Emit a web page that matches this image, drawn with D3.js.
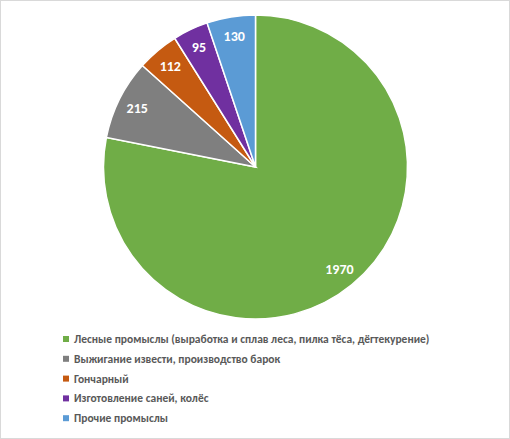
<!DOCTYPE html>
<html>
<head>
<meta charset="utf-8">
<script src="https://cdn.jsdelivr.net/npm/d3@7"></script>
<style>
    body { margin: 0; background: #fff; }
    svg text { font-family: Carlito, Lato, sans-serif; }
</style>
</head>
<body>
<div id="chart"></div>
<script>
var categories = [
    "Лесные промыслы (выработка и сплав леса, пилка тёса, дёгтекурение)",
    "Выжигание извести, производство барок",
    "Гончарный",
    "Изготовление саней, колёс",
    "Прочие промыслы"
];
var values = [1970, 215, 112, 95, 130];
var colors = ["#70ad47", "#7f7f7f", "#c55a11", "#7030a0", "#5b9bd5"];

var width = 510, height = 439;
var cx = 255.5, cy = 167, radius = 152;

var svg = d3.select("#chart")
    .append("svg")
    .attr("width", width)
    .attr("height", height);

svg.append("rect")
    .attr("x", 0.5)
    .attr("y", 0.5)
    .attr("width", width - 1)
    .attr("height", height - 1)
    .style("fill", "#fff")
    .style("stroke", "#d9d9d9");

var pie = d3.pie().sort(null).value(function(d){ return d; });
var arcs = pie(values);

var arc = d3.arc().innerRadius(0).outerRadius(radius);
var labelArc = d3.arc().innerRadius(radius * 0.87).outerRadius(radius * 0.87);

var g = svg.append("g").attr("transform", "translate(" + cx + "," + cy + ")");

g.selectAll("path")
    .data(arcs)
    .enter()
    .append("path")
    .attr("d", arc)
    .style("fill", function(d,i){ return colors[i]; })
    .style("stroke", "#fff")
    .style("stroke-width", 1.5);

g.selectAll("text")
    .data(arcs)
    .enter()
    .append("text")
    .attr("transform", function(d){ return "translate(" + labelArc.centroid(d) + ")"; })
    .attr("text-anchor", "middle")
    .attr("dy", "0.35em")
    .attr("fill", "#fff")
    .attr("font-size", "14px")
    .attr("font-weight", "bold")
    .text(function(d){ return d.data; });

var legend = svg.append("g");

var rows = legend.selectAll("g")
    .data(categories)
    .enter()
    .append("g")
    .attr("transform", function(d,i){ return "translate(63," + (339 + i * 19.8) + ")"; });

rows.append("rect")
    .attr("x", 0)
    .attr("y", -3)
    .attr("width", 6)
    .attr("height", 6)
    .style("fill", function(d,i){ return colors[i]; });

rows.append("text")
    .attr("x", 11)
    .attr("dy", "0.35em")
    .attr("fill", "#595959")
    .attr("font-size", "11.5px")
    .attr("font-weight", "bold")
    .text(function(d){ return d; });
</script>
</body>
</html>
